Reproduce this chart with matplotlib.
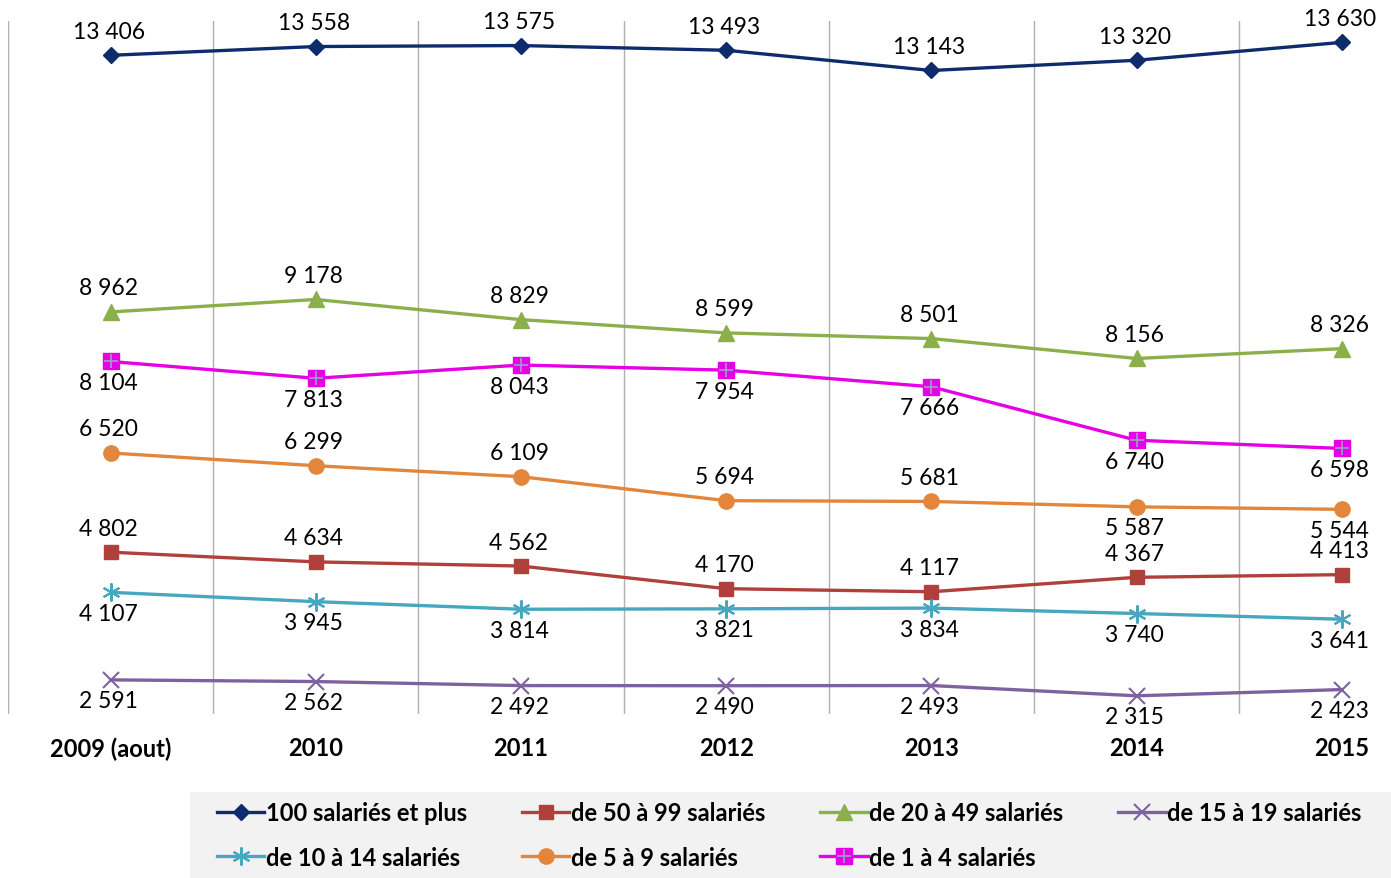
import matplotlib.pyplot as plt
from matplotlib.legend_handler import HandlerTuple

annees = ["2009 (aout)", "2010", "2011", "2012", "2013", "2014", "2015"]

s100 = [13406, 13558, 13575, 13493, 13143, 13320, 13630]
s50 = [4802, 4634, 4562, 4170, 4117, 4367, 4413]
s20 = [8962, 9178, 8829, 8599, 8501, 8156, 8326]
s15 = [2591, 2562, 2492, 2490, 2493, 2315, 2423]
s10 = [4107, 3945, 3814, 3821, 3834, 3740, 3641]
s5 = [6520, 6299, 6109, 5694, 5681, 5587, 5544]
s1 = [8104, 7813, 8043, 7954, 7666, 6740, 6598]

noms = ["100 salariés et plus", "de 50 à 99 salariés", "de 20 à 49 salariés",
        "de 15 à 19 salariés", "de 10 à 14 salariés", "de 5 à 9 salariés",
        "de 1 à 4 salariés"]

plt.rcParams['font.family'] = ['Lato', 'DejaVu Sans']

fig = plt.figure(figsize=(13.91, 8.79), dpi=100)
ax = fig.add_axes([8/1391, 1 - 715/879, 1 - 8/1391, (715 - 22)/879])
ax.set_xlim(-0.5, 6.24)
ax.set_ylim(2000, 14000)

x = list(range(len(annees)))

# (valeurs, couleur, marqueur, taille, position des étiquettes: 1 dessus, -1 dessous)
series = [
    (s100, '#0E2C6C', 'D', 8, [1] * 7),
    (s50, '#B0403B', 's', 10, [1] * 7),
    (s20, '#8BAF4B', '^', 11, [1] * 7),
    (s15, '#7E62A0', 'x', 11, [-1] * 7),
    (s10, '#46A7BF', (6, 2, 0), 13, [-1] * 7),
    (s5, '#E3863B', 'o', 11, [1, 1, 1, 1, 1, -1, -1]),
    (s1, '#E600E6', 's', 11, [-1] * 7),
]

handles = []
for (vals, col, mk, ms, pos), nom in zip(series, noms):
    mew = 1.5 if mk in ('x', (6, 2, 0)) else 1
    ln, = ax.plot(x, vals, color=col, lw=2.4, marker=mk, ms=ms,
                  mec=col, mfc=col, mew=mew, zorder=3)
    h = ln
    if nom == "de 1 à 4 salariés":
        cr, = ax.plot(x, vals, ls='none', marker='+', ms=10, mew=1.2,
                      color='#9E9EC8', zorder=4)
        h = (ln, cr)
    handles.append(h)
    for xi, v, p in zip(x, vals, pos):
        txt = f"{v:,}".replace(",", "\u00a0")
        off = 24 if p > 0 else -21
        ax.annotate(txt, (xi, v), textcoords='offset pixels', xytext=(-2, off),
                    ha='center', va='center', fontsize=16.5, color='black')

for b in [-0.5 + i for i in range(8)]:
    ax.axvline(b, color='#B0B0B0', lw=1, zorder=1)

for s in ax.spines.values():
    s.set_visible(False)
ax.set_yticks([])
ax.set_xticks(x)
ax.set_xticklabels(annees, fontsize=17, fontweight='bold')
ax.tick_params(axis='x', length=0, pad=16)

leg_ax = fig.add_axes([190/1391, 0, 1 - 190/1391, 86/879])
leg_ax.set_facecolor('#F2F2F2')
leg_ax.set_xticks([])
leg_ax.set_yticks([])
for s in leg_ax.spines.values():
    s.set_visible(False)

# legende lue ligne par ligne
ordre = [0, 4, 1, 5, 2, 6, 3]
leg = leg_ax.legend([handles[i] for i in ordre], [noms[i] for i in ordre],
                    loc='center left', ncol=4, frameon=False,
                    prop={'weight': 'bold', 'size': 17},
                    handlelength=2.0, handletextpad=0.05, columnspacing=2.35,
                    labelspacing=0.9, borderaxespad=0.75,
                    handler_map={tuple: HandlerTuple(ndivide=1)})

fig.savefig("out.png", dpi=100)
